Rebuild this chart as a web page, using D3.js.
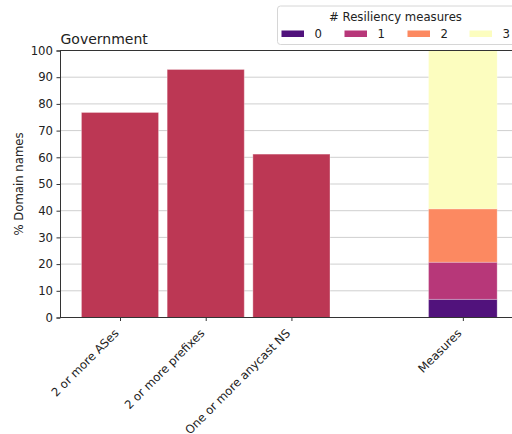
<!DOCTYPE html>
<html>
<head>
<meta charset="utf-8">
<script src="https://cdn.jsdelivr.net/npm/d3@7"></script>
<style>
  html, body { margin: 0; padding: 0; background: #fff; overflow: hidden; }
  svg { display: block; font-family: "DejaVu Sans", sans-serif; }
</style>
</head>
<body>
<svg id="chart" width="512" height="434"></svg>
<script>
// ---- data ----
const title = "Government";
const yLabel = "% Domain names";
const categories = ["2 or more ASes", "2 or more prefixes", "One or more anycast NS"];
const categoryValues = [76.8, 92.9, 61.2];
const stackCategory = "Measures";
const stackKeys = ["0", "1", "2", "3"];
const stackValues = [6.8, 13.9, 20.0, 59.3];
const stackColors = ["#51127c", "#b73779", "#fc8961", "#fcfdbf"];
const barColor = "#bc3754";
const legendTitle = "# Resiliency measures";
const yTicks = [0, 10, 20, 30, 40, 50, 60, 70, 80, 90, 100];

// ---- layout ----
const svg = d3.select("#chart");
const pLeft = 60, pRight = 519, pTop = 50.5, pBottom = 317.5;
const positions = [0, 1, 2, 4];
const x = d3.scaleLinear().domain([-0.7, 4.655]).range([pLeft, pRight]);
const y = d3.scaleLinear().domain([0, 100]).range([pBottom, pTop]);
const unit = x(1) - x(0);
const textColor = "#222";
const fs = 11.7;

// grid
svg.append("g").selectAll("line").data(yTicks.filter(d => d > 0 && d < 100)).join("line")
  .attr("x1", pLeft).attr("x2", pRight)
  .attr("y1", d => y(d)).attr("y2", d => y(d))
  .attr("stroke", "#cfcfcf").attr("stroke-width", 1);

// simple bars
svg.append("g").selectAll("rect").data(categories).join("rect")
  .attr("x", (d, i) => x(positions[i]) - 0.45 * unit)
  .attr("width", 0.9 * unit)
  .attr("y", (d, i) => y(categoryValues[i]))
  .attr("height", (d, i) => y(0) - y(categoryValues[i]))
  .attr("fill", barColor)
  .attr("stroke", "#ffffff").attr("stroke-opacity", 0.35).attr("stroke-width", 1);

// stacked bar
const cum = d3.cumsum(stackValues);
const stackPos = positions[3];
svg.append("g").selectAll("rect").data(stackKeys).join("rect")
  .attr("x", x(stackPos) - 0.4 * unit)
  .attr("width", 0.8 * unit)
  .attr("y", (d, i) => y(cum[i]))
  .attr("height", (d, i) => y(cum[i] - stackValues[i]) - y(cum[i]))
  .attr("fill", (d, i) => stackColors[i])
  .attr("stroke", "#ffffff").attr("stroke-opacity", 0.25).attr("stroke-width", 1);

// axes
const yAxis = d3.axisLeft(y).tickValues(yTicks).tickSize(3.5).tickPadding(3.5);
const gy = svg.append("g").attr("transform", `translate(${pLeft},0)`).call(yAxis);
gy.select(".domain").attr("stroke", "#333").attr("stroke-width", 1);
gy.selectAll(".tick line").attr("stroke", "#333");
gy.selectAll(".tick text").attr("font-size", fs).attr("fill", textColor)
  .attr("font-family", "DejaVu Sans");

const xLabels = categories.concat([stackCategory]);
const xAxis = d3.axisBottom(x).tickValues(positions).tickSize(3.5).tickFormat("");
const gx = svg.append("g").attr("transform", `translate(0,${pBottom})`).call(xAxis);
gx.select(".domain").remove();
gx.selectAll(".tick line").attr("stroke", "#333");
svg.append("line").attr("x1", pLeft).attr("x2", pRight).attr("y1", pBottom).attr("y2", pBottom)
  .attr("stroke", "#333").attr("stroke-width", 1);
svg.append("line").attr("x1", pLeft).attr("x2", pRight).attr("y1", pTop).attr("y2", pTop)
  .attr("stroke", "#333").attr("stroke-width", 1);

svg.append("g").selectAll("text").data(xLabels).join("text")
  .attr("transform", (d, i) => `translate(${x(positions[i]) - 0.5},${pBottom + 16.5}) rotate(-45)`)
  .attr("text-anchor", "end")
  .attr("font-size", fs).attr("fill", textColor)
  .text(d => d);

// y label
svg.append("text")
  .attr("transform", `translate(23,${(pTop + pBottom) / 2}) rotate(-90)`)
  .attr("text-anchor", "middle")
  .attr("font-size", fs).attr("fill", textColor)
  .text(yLabel);

// title
svg.append("text").attr("x", pLeft + 0.5).attr("y", 43.5)
  .attr("font-size", 14).attr("fill", textColor).text(title);

// legend
const lg = svg.append("g");
lg.append("rect").attr("x", 277.5).attr("y", 6).attr("width", 250).attr("height", 38.5)
  .attr("rx", 3).attr("fill", "#fff").attr("fill-opacity", 0.85)
  .attr("stroke", "#d6d6d6").attr("stroke-width", 1);
lg.append("text").attr("x", 395.5).attr("y", 20.5).attr("text-anchor", "middle")
  .attr("font-size", fs).attr("fill", textColor).text(legendTitle);
const legX = [281.5, 344.5, 407.5, 469.5];
const items = lg.selectAll("g.item").data(stackKeys).join("g")
  .attr("transform", (d, i) => `translate(${legX[i]},0)`);
items.append("rect").attr("x", 0).attr("y", 30.5).attr("width", 22.5).attr("height", 6.5)
  .attr("fill", (d, i) => stackColors[i]);
items.append("text").attr("x", 33).attr("y", 38).attr("font-size", fs)
  .attr("fill", textColor).text(d => d);
</script>
</body>
</html>
